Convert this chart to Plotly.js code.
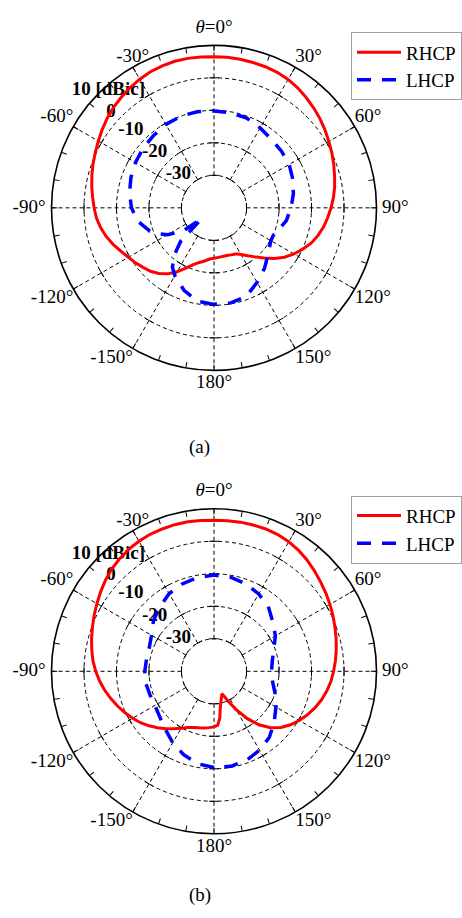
<!DOCTYPE html>
<html>
<head>
<meta charset="utf-8">
<script src="https://cdn.plot.ly/plotly-3.0.1.min.js"></script>
<style>html,body{margin:0;padding:0;background:#fff;}#chart{width:462px;height:918px;}</style>
</head>
<body>
<div id="chart"></div>
<script>
// ---- data (theta in degrees, gain in dBic) ----
var rhcpA_theta = [-180,-175,-170,-165,-160,-155,-150,-145,-140,-135,-130,-125,-120,-115,-110,-105,-100,-95,-90,-85,-80,-75,-70,-65,-60,-55,-50,-45,-40,-35,-30,-25,-20,-15,-10,-5,0,5,10,15,20,25,30,35,40,45,50,55,60,65,70,75,80,85,90,95,100,105,110,115,120,125,130,135,140,145,150,152.5,155,160,165,170,175,180];
var rhcpA_gain  = [-24.5,-24.2,-23.4,-22.6,-21.4,-19.5,-17.3,-15.2,-13.6,-12.4,-11.5,-10.5,-9.6,-8.4,-7.0,-5.7,-4.6,-3.7,-3.1,-2.5,-1.8,-1.1,-0.4,0.3,1.1,2.0,2.9,3.7,4.4,5.1,5.7,6.2,6.5,6.7,6.7,6.6,6.5,6.5,6.4,6.3,6.2,6.0,5.6,5.0,4.2,3.4,2.6,1.7,0.8,0.0,-0.8,-1.6,-2.3,-3.1,-4.0,-4.9,-5.8,-6.9,-8.2,-9.9,-11.6,-13.5,-15.8,-18.2,-20.3,-22.0,-23.4,-24.0,-24.3,-24.6,-24.8,-24.8,-24.7,-24.5];

var lhcpA_theta = [-180,-170,-160,-150,-145,-140,-135,-131,-127,-123,-120,-115,-110,-100,-90,-80,-70,-60,-50,-40,-30,-20,-10,0,10,20,30,40,50,60,70,80,90,100,110,115,120,130,140,150,160,170,180];
var lhcpA_gain  = [-10.3,-10.8,-13.0,-15.9,-17.7,-21.0,-25.5,-35.0,-28.5,-25.8,-23.5,-21.2,-19.0,-16.2,-14.6,-13.6,-12.8,-12.1,-11.5,-11.0,-10.4,-10.0,-10.0,-10.2,-10.3,-10.6,-11.6,-12.5,-12.9,-13.3,-14.2,-15.2,-16.3,-17.4,-19.2,-19.9,-19.8,-18.2,-15.8,-13.5,-11.0,-10.3,-10.3];

var rhcpB_theta = [-180,-175,-170,-165,-160,-155,-150,-145,-140,-135,-130,-125,-120,-115,-110,-105,-100,-95,-90,-85,-80,-75,-70,-65,-60,-55,-50,-45,-40,-35,-30,-25,-20,-15,-10,-5,0,5,10,15,20,25,30,35,40,45,50,55,60,65,70,75,80,85,90,95,100,105,110,115,120,125,130,135,140,145,150,155,158,160.6,163,166,170,173,176,180];
var rhcpB_gain  = [-22.9,-22.6,-22.3,-22.0,-21.6,-20.9,-19.8,-18.4,-16.9,-15.4,-13.9,-12.4,-11.1,-9.8,-8.5,-7.2,-5.9,-4.7,-3.6,-2.6,-1.8,-1.0,-0.2,0.7,1.6,2.6,3.6,4.5,5.2,5.8,6.2,6.5,6.6,6.7,6.7,6.6,6.5,6.5,6.6,6.6,6.6,6.4,6.0,5.4,4.6,3.7,2.8,2.0,1.2,0.4,-0.4,-1.1,-1.8,-2.5,-3.2,-3.9,-4.8,-5.8,-7.0,-8.3,-9.7,-11.3,-13.1,-15.4,-18.5,-22.3,-26.5,-30.0,-31.8,-32.7,-32.0,-30.9,-28.8,-25.5,-23.4,-22.9];

var lhcpB_theta = [-180,-170,-160,-150,-140,-130,-120,-110,-100,-90,-80,-70,-60,-50,-40,-30,-20,-10,0,10,20,30,40,50,60,70,80,90,100,110,120,130,140,150,160,170,180];
var lhcpB_gain  = [-10.4,-11.1,-12.7,-14.6,-16.7,-18.2,-19.0,-19.0,-18.7,-18.7,-18.9,-18.8,-17.8,-15.7,-14.1,-12.4,-11.4,-10.7,-10.4,-10.6,-11.4,-12.5,-14.0,-16.4,-18.2,-20.4,-21.8,-22.3,-21.7,-20.0,-18.0,-15.8,-13.5,-12.0,-10.8,-10.3,-10.4];

var seriesNames = ["RHCP", "LHCP"];
var radialTicks = [-30, -20, -10, 0, 10];
var radialTickLabels = ["-30", "-20", "-10", "0", "10 [dBic]"];
var angleTicks = [0,30,60,90,120,150,180,210,240,270,300,330];
var angleTickLabels = ["<i>θ</i>=0°","30°","60°","90°","120°","150°","180°","-150°","-120°","-90°","-60°","-30°"];
var panelLabels = ["(a)", "(b)"];

// ---- styling ----
var FONT = "Liberation Serif, Times New Roman, serif";
var RANGE = [-40, 10];
var angleLabelPos = ["top center","top right","top right","middle right","bottom right","bottom right","bottom center","bottom left","bottom left","middle left","top left","top center"];
var angleLabelPad = [11,0,0,7,0,0,4,0,0,8,0,0];

function gridTrace(sub) {
  var r = [], t = [];
  angleTicks.forEach(function (a) { r.push(radialTicks[0], RANGE[1], null); t.push(a, a, null); });
  return { type: "scatterpolar", subplot: sub, r: r, theta: t, mode: "lines",
           line: { color: "#000", width: 1, dash: "4px,3px" }, hoverinfo: "skip", showlegend: false };
}
// small perpendicular tick marks where each radial grid line crosses a grid circle
function crossTickTrace(sub) {
  var r = [], t = [], ang = [];
  angleTicks.forEach(function (a) {
    radialTicks.slice(0, 4).forEach(function (v) { r.push(v); t.push(a); ang.push(a); });
  });
  return { type: "scatterpolar", subplot: sub, r: r, theta: t, mode: "markers",
           marker: { symbol: "line-ew", size: 7, angle: ang, line: { color: "#000", width: 1 } },
           hoverinfo: "skip", showlegend: false };
}
function radialLabelTrace(sub) {
  var r = [], t = [];
  radialTicks.forEach(function (v, i) {
    if (i === radialTicks.length - 1) { r.push(v - 1.4); t.push(-42); }
    else { r.push(v + (v === 0 ? 3.3 : 5.0)); t.push(-47); }
  });
  return { type: "scatterpolar", subplot: sub, r: r, theta: t, mode: "text", text: radialTickLabels,
           textposition: "middle center", cliponaxis: false,
           textfont: { family: FONT, size: 19, color: "#000", weight: "bold" },
           hoverinfo: "skip", showlegend: false };
}
function angleLabelTrace(sub) {
  return { type: "scatterpolar", subplot: sub, r: angleTicks.map(function () { return RANGE[1]; }),
           theta: angleTicks, mode: "markers+text", text: angleTickLabels,
           textposition: angleLabelPos, cliponaxis: false,
           marker: { size: angleLabelPad, color: "rgba(0,0,0,0)" },
           textfont: { family: FONT, size: 19, color: "#000" },
           hoverinfo: "skip", showlegend: false };
}
function curve(sub, leg, th, g, i) {
  var red = i === 0;
  return { type: "scatterpolar", subplot: sub, legend: leg, name: seriesNames[i], r: g, theta: th,
           mode: "lines", cliponaxis: false,
           line: red ? { color: "#ff0000", width: 3, shape: "linear" }
                     : { color: "#0000ff", width: 3.5, dash: "14px,11px", shape: "linear" } };
}

var data = [
  gridTrace("polar"), crossTickTrace("polar"), radialLabelTrace("polar"), angleLabelTrace("polar"),
  curve("polar", "legend", rhcpA_theta, rhcpA_gain, 0),
  curve("polar", "legend", lhcpA_theta, lhcpA_gain, 1),
  gridTrace("polar2"), crossTickTrace("polar2"), radialLabelTrace("polar2"), angleLabelTrace("polar2"),
  curve("polar2", "legend2", rhcpB_theta, rhcpB_gain, 0),
  curve("polar2", "legend2", lhcpB_theta, lhcpB_gain, 1)
];

var fine = [];
for (var a = 0; a < 360; a += 10) fine.push(a);

function polarLayout(yd) {
  return {
    domain: { x: [0.1132, 0.8275], y: yd },
    bgcolor: "#fff",
    angularaxis: {
      rotation: 90, direction: "clockwise", thetaunit: "degrees",
      tickmode: "array", tickvals: fine, showticklabels: false,
      ticks: "inside", ticklen: 5, tickwidth: 1, tickcolor: "#000",
      showline: true, linecolor: "#000", linewidth: 1.6,
      showgrid: false
    },
    radialaxis: {
      range: RANGE, tickmode: "array", tickvals: radialTicks.slice(0, 4),
      showgrid: true, gridcolor: "#000", gridwidth: 1, griddash: "4px,3px",
      showline: false, ticks: "", showticklabels: false
    }
  };
}
function legendLayout(y) {
  return { x: 0.772, y: y, xanchor: "left", yanchor: "top", bgcolor: "#fff",
           bordercolor: "#a0a0a0", borderwidth: 1, itemwidth: 44, tracegroupgap: 0,
           font: { family: FONT, size: 19, color: "#000" } };
}

var layout = {
  width: 462, height: 918,
  margin: { l: 0, r: 0, t: 0, b: 0 },
  paper_bgcolor: "#fff",
  showlegend: true,
  font: { family: FONT, size: 19, color: "#000" },
  polar: polarLayout([0.5944, 0.9528]),
  polar2: polarLayout([0.0890, 0.4485]),
  legend: legendLayout(0.9648),
  legend2: legendLayout(0.460),
  annotations: [
    { text: panelLabels[0], xref: "paper", yref: "paper", x: 0.4394, y: 0.5131, showarrow: false,
      font: { family: FONT, size: 19, color: "#000" } },
    { text: panelLabels[1], xref: "paper", yref: "paper", x: 0.4394, y: 0.0109, showarrow: false,
      font: { family: FONT, size: 19, color: "#000" } }
  ]
};

Plotly.newPlot("chart", data, layout, { staticPlot: true, displayModeBar: false });
</script>
</body>
</html>
